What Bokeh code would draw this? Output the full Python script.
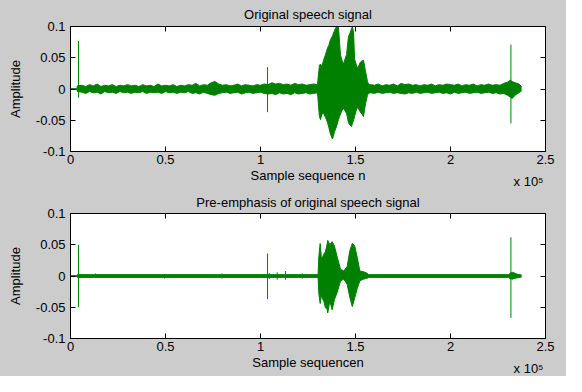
from bokeh.plotting import figure
from bokeh.models import Range1d, FixedTicker, LinearAxis, Title
from bokeh.layouts import column
from bokeh.embed import file_html
from bokeh.resources import INLINE

# ---------------- data (sample index in thousands, amplitude) ----------------
titles = ["Original speech signal", "Pre-emphasis of original speech signal"]
xlabels = ["Sample sequence n", "Sample sequencen"]
ylabel = "Amplitude"
x_scale_text = "x 10\u2075"
x_ticks = [0, 50, 100, 150, 200, 250]
x_tick_labels = ["0", "0.5", "1", "1.5", "2", "2.5"]
y_ticks = [-0.1, -0.05, 0, 0.05, 0.1]
y_tick_labels = ["-0.1", "-0.05", "0", "0.05", "0.1"]

# envelope of the original signal
orig_n = [0, 3.4, 3.6,
          6, 8, 10, 12, 14, 16, 18, 20, 22, 24,
          26, 28, 30, 32, 34, 36, 38, 40, 42, 44,
          46, 48, 50, 52, 54, 56, 58, 60, 62, 64,
          66, 68, 70, 72, 74, 76, 78, 80, 82, 84,
          86, 88, 90, 92, 94, 96, 98, 100, 102, 104,
          106, 108, 110, 112, 114, 116, 118, 120, 122, 124,
          126, 128, 130,
          131.0, 131.6, 132.3, 133.2, 134.2, 135.3, 136.0, 136.8, 137.9, 139.0,
          140.0, 141.0, 142.1, 143.0, 143.7, 144.5, 145.3, 146.3, 147.2, 147.9,
          148.4, 149.0, 149.5, 150.3, 151.0, 151.8, 152.6, 153.4, 154.2, 155.3,
          156.3, 156.8,
          158, 160, 162, 164, 166, 168, 170, 172, 174, 176,
          178, 180, 182, 184, 186, 188, 190, 192, 194, 196,
          198, 200, 202, 204, 206, 208, 210, 212, 214, 216,
          218, 220, 222, 224, 226, 228,
          230, 231.5, 232.5, 234, 236, 237.4]
orig_upper = [0.0006, 0.0006, 0.005,
              .006, .004, .007, .005, .008, .004, .006, .005, .007, .004,
              .006, .005, .007, .005, .006, .004, .007, .005, .006, .004,
              .008, .005, .006, .005, .007, .004, .006, .005, .007, .006,
              .009, .005, .007, .006, .010, .012, .008, .006, .007, .005,
              .006, .008, .005, .007, .006, .005, .007, .006, .008, .007,
              .010, .008, .009, .007, .008, .006, .009, .007, .008, .006,
              .007, .008, .007,
              .038, .040, .036, .046, .055, .066, .070, .079, .085, .094,
              .100, .100, .054, .045, .040, .048, .055, .084, .090, .097,
              .100, .090, .048, .040, .033, .038, .043, .045, .046, .028,
              .012, .008,
              .007, .006, .008, .005, .007, .006, .008, .005, .009, .007,
              .008, .006, .007, .005, .007, .006, .008, .005, .007, .006,
              .008, .007, .006, .008, .005, .007, .006, .008, .005, .007,
              .006, .008, .006, .007, .006, .009,
              .011, .014, .012, .010, .008, .004]
orig_lower = [-0.0006, -0.0006, -0.004,
              -.005, -.007, -.004, -.006, -.005, -.008, -.004, -.006, -.005, -.007,
              -.004, -.006, -.005, -.007, -.005, -.006, -.004, -.007, -.005, -.006,
              -.005, -.007, -.004, -.006, -.005, -.007, -.005, -.006, -.004, -.007,
              -.006, -.008, -.005, -.007, -.009, -.010, -.007, -.006, -.005, -.007,
              -.006, -.005, -.008, -.006, -.005, -.007, -.006, -.005, -.007, -.008,
              -.007, -.009, -.006, -.008, -.007, -.009, -.006, -.008, -.007, -.006,
              -.008, -.007, -.006,
              -.044, -.049, -.040, -.039, -.045, -.054, -.062, -.072, -.080, -.068,
              -.060, -.049, -.040, -.034, -.031, -.035, -.039, -.054, -.058, -.060,
              -.055, -.050, -.044, -.035, -.029, -.033, -.037, -.040, -.044, -.023,
              -.010, -.007,
              -.006, -.007, -.005, -.007, -.006, -.005, -.007, -.006, -.007, -.008,
              -.006, -.007, -.005, -.007, -.006, -.005, -.007, -.006, -.005, -.007,
              -.006, -.008, -.005, -.007, -.006, -.005, -.007, -.006, -.005, -.007,
              -.006, -.005, -.007, -.006, -.008, -.007,
              -.010, -.013, -.015, -.010, -.006, -.003]
orig_spike_n = [4.2, 103.7, 231.8]
orig_spike_top = [0.077, 0.035, 0.071]
orig_spike_bottom = [-0.014, -0.037, -0.055]

# envelope of the pre-emphasised signal
pre_n = [0, 3.4, 3.6, 130.3,
         130.7, 131.4, 132.0, 132.5, 133.3, 134.2, 135.0, 135.4, 136.5, 137.7,
         138.9, 140.4, 142.1, 143.8, 145.6, 147.0, 148.3, 149.5, 150.9, 152.3,
         154.0, 155.8, 157.0,
         230.5, 231.2, 232.6, 233.5, 235.0, 237.4]
pre_upper = [0.0006, 0.0006, 0.0022, 0.0022,
             .031, .052, .031, .029, .035, .039, .050, .057, .050, .055,
             .048, .030, .011, .008, .015, .040, .052, .049, .030, .008,
             .007, .005, .0022,
             .0022, .004, .006, .005, .003, .0015]
pre_lower = [-0.0006, -0.0006, -0.0022, -0.0022,
             -.028, -.044, -.030, -.036, -.040, -.051, -.052, -.059, -.040, -.054,
             -.038, -.026, -.008, -.005, -.013, -.034, -.049, -.036, -.020, -.008,
             -.005, -.004, -.0022,
             -.0022, -.004, -.005, -.004, -.003, -.0015]
pre_spike_n = [4.2, 13.2, 49.5, 79.8, 98.2, 103.7, 104.6, 108.8, 113.2, 122.0, 231.8]
pre_spike_top = [0.050, 0.004, 0.003, 0.004, 0.003, 0.036, 0.005, 0.006, 0.008, 0.004, 0.062]
pre_spike_bottom = [-0.050, -0.003, -0.004, -0.004, -0.003, -0.037, -0.005, -0.006, -0.006, -0.004, -0.067]

# ---------------- styling ----------------
GRAY = "#cccccc"
GREEN = "#008000"
FONT = "Liberation Sans"
FRAME_H = 125


def style_axis(ax, ticks, labels, show_labels=True):
    ax.ticker = FixedTicker(ticks=ticks)
    ax.major_tick_in = 5
    ax.major_tick_out = 0
    ax.minor_tick_line_color = None
    ax.axis_line_color = "black"
    ax.major_tick_line_color = "black"
    ax.axis_label_text_font = FONT
    ax.axis_label_text_font_size = "13px"
    ax.axis_label_text_font_style = "normal"
    ax.axis_label_text_color = "black"
    ax.major_label_text_font = FONT
    if show_labels:
        ax.major_label_overrides = {t: l for t, l in zip(ticks, labels)}
        ax.major_label_text_font_size = "13px"
        ax.major_label_text_color = "black"
    else:
        ax.major_label_text_font_size = "0px"
        ax.major_label_text_color = None
        ax.major_label_standoff = 0


def make_panel(title, xlabel, n, up, lo, sn, stop, sbot,
               top_b, bot_b, title_standoff, scale_standoff):
    p = figure(width=566, height=top_b + FRAME_H + bot_b,
               x_range=Range1d(0, 250), y_range=Range1d(-0.1, 0.1),
               output_backend="svg", toolbar_location=None,
               min_border_left=70, min_border_right=21,
               min_border_top=top_b, min_border_bottom=bot_b,
               background_fill_color="white", border_fill_color=GRAY,
               outline_line_color="black", title=title,
               styles={"background-color": GRAY})
    p.title.text_font = FONT
    p.title.text_font_size = "13px"
    p.title.text_font_style = "normal"
    p.title.text_color = "black"
    p.title.align = "center"
    p.title.standoff = title_standoff
    p.grid.visible = False

    style_axis(p.xaxis[0], x_ticks, x_tick_labels)
    p.xaxis[0].axis_label = xlabel
    p.xaxis[0].major_label_standoff = 3
    p.xaxis[0].axis_label_standoff = 1
    style_axis(p.yaxis[0], y_ticks, y_tick_labels)
    p.yaxis[0].axis_label = ylabel
    p.yaxis[0].major_label_standoff = 5
    p.yaxis[0].axis_label_standoff = 10

    top = LinearAxis()
    style_axis(top, x_ticks, x_tick_labels, show_labels=False)
    p.add_layout(top, "above")
    right = LinearAxis()
    style_axis(right, y_ticks, y_tick_labels, show_labels=False)
    p.add_layout(right, "right")

    p.varea(x=n, y1=lo, y2=up, fill_color=GREEN)
    p.line(x=n, y=up, line_color=GREEN, line_width=1)
    p.line(x=n, y=lo, line_color=GREEN, line_width=1)
    p.segment(x0=sn, y0=sbot, x1=sn, y1=stop, line_color=GREEN, line_width=1)

    scale = Title(text=x_scale_text, align="right", offset=2,
                  vertical_align="top", standoff=scale_standoff,
                  text_font=FONT, text_font_size="13px",
                  text_font_style="normal", text_color="black")
    p.add_layout(scale, "below")
    return p


p1 = make_panel(titles[0], xlabels[0], orig_n, orig_upper, orig_lower,
                orig_spike_n, orig_spike_top, orig_spike_bottom,
                26, 38, 9, -23)
p2 = make_panel(titles[1], xlabels[1], pre_n, pre_upper, pre_lower,
                pre_spike_n, pre_spike_top, pre_spike_bottom,
                24, 38, 7, -23)

p = column(p1, p2, spacing=0, styles={"background-color": GRAY})
open("out.html", "w").write(file_html(p, INLINE))
